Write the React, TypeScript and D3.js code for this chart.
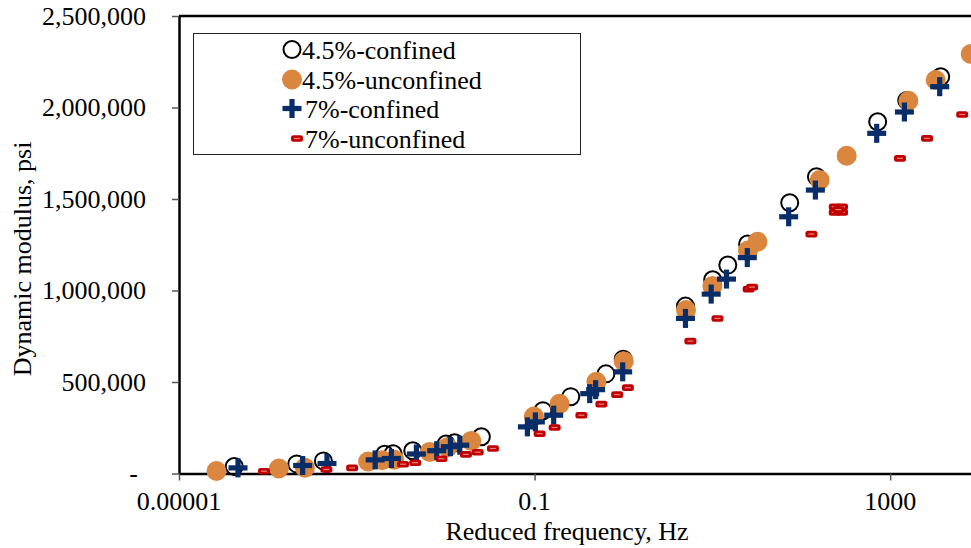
import React, { useEffect, useRef } from 'react';
import * as d3 from 'd3';

// legend / series names
const seriesNames = ['4.5%-confined', '4.5%-unconfined', '7%-confined', '7%-unconfined'];

// [reduced frequency (Hz), dynamic modulus (psi)]
const confined45: [number, number][] = [
  [4.18e-5, 38300], [2.11e-4, 52500], [4.21e-4, 68900], [2.06e-3, 105500], [2.56e-3, 108300],
  [4.26e-3, 124700], [1.01e-2, 161300], [1.26e-2, 168400], [2.52e-2, 201200], [0.124, 343300],
  [0.255, 419900], [0.635, 544500], [0.993, 624900], [4.98, 914700], [10.07, 1058500],
  [14.9, 1138900], [24.9, 1253700], [74.1, 1479500], [148, 1621600], [723, 1922400],
  [1535, 2038300], [3700, 2168400],
];

const unconfined45: [number, number][] = [
  [2.64e-5, 13700], [1.33e-4, 27300], [2.61e-4, 31700], [1.34e-3, 65600], [1.93e-3, 72700],
  [2.64e-3, 75400], [6.61e-3, 118100], [1.05e-2, 143800], [1.94e-2, 178200], [0.0982, 311600],
  [0.191, 380500], [0.495, 500800], [1.005, 614000], [5.05, 892800], [10.0, 1025100],
  [25.1, 1218100], [32.1, 1266200], [161, 1603500], [324, 1736400], [1603, 2037100],
  [3250, 2150300], [8050, 2292400],
];

const confined7: [number, number][] = [
  [4.61e-5, 30600], [2.46e-4, 43700], [4.62e-4, 54700], [1.61e-3, 74400], [2.45e-3, 82000],
  [4.68e-3, 106600], [7.93e-3, 124700], [1.13e-2, 146500], [1.44e-2, 154700], [0.083, 254800],
  [0.102, 282100], [0.164, 318700], [0.417, 436300], [0.486, 458200], [0.979, 555500],
  [4.98, 847400], [9.69, 980300], [14.4, 1062300], [24.7, 1179800], [72.1, 1402900],
  [144, 1548900], [705, 1858900], [1445, 1975400], [3605, 2113700],
];

const unconfined7: [number, number][] = [
  [9.04e-5, 12600], [4.55e-4, 21900], [8.87e-4, 30600], [3.31e-3, 50800], [4.54e-3, 59000],
  [8.95e-3, 80900], [1.69e-2, 104400], [2.29e-2, 116500], [3.4e-2, 136700], [0.114, 217600],
  [0.168, 251500], [0.336, 318700], [0.564, 378900], [0.849, 430800], [1.12, 469100],
  [5.66, 723300], [11.4, 847400], [25.6, 1007600], [28.0, 1018500], [130, 1308300],
  [238, 1457000], [287, 1457000], [238, 1426900], [287, 1426900], [261, 1442000],
  [1288, 1722200], [2594, 1831500], [6457, 1961600],
];

const xTicks = [0.00001, 0.1, 1000];
const xTickLabels = ['0.00001', '0.1', '1000'];
const yTicks = [0, 500000, 1000000, 1500000, 2000000, 2500000];

const W = 971;
const H = 548;
const FONT = '"Liberation Serif", "Times New Roman", serif';
const ORANGE = '#DA863E';
const NAVY = '#082D68';
const RED = '#C00000';

type Sel = d3.Selection<SVGGElement, unknown, null, undefined>;

const drawMarker = (g: Sel, kind: number, cx: number, cy: number) => {
  if (kind === 0) {
    g.append('circle').attr('cx', cx).attr('cy', cy).attr('r', 8.5)
      .attr('fill', 'none').attr('stroke', '#000').attr('stroke-width', 2);
  } else if (kind === 1) {
    g.append('circle').attr('cx', cx).attr('cy', cy).attr('r', 10).attr('fill', ORANGE);
  } else if (kind === 2) {
    g.append('rect').attr('x', cx - 9.5).attr('y', cy - 2.6).attr('width', 19).attr('height', 5.2).attr('fill', NAVY);
    g.append('rect').attr('x', cx - 2.6).attr('y', cy - 9.5).attr('width', 5.2).attr('height', 19).attr('fill', NAVY);
  } else {
    g.append('rect').attr('x', cx - 6).attr('y', cy - 3.3).attr('width', 12).attr('height', 6.6)
      .attr('rx', 2.5).attr('fill', RED);
    g.append('rect').attr('x', cx - 3).attr('y', cy - 0.6).attr('width', 6).attr('height', 1.2)
      .attr('fill', '#E88080');
  }
};

const App: React.FC = () => {
  const chartRef = useRef<SVGSVGElement | null>(null);

  useEffect(() => {
    const root = d3.select(chartRef.current);
    root.selectAll('*').remove();
    const svg = root.append('g') as unknown as Sel;

    const x = d3.scaleLog().domain([1e-5, 1e5]).range([179, 179 + 10 * 88.9]);
    const y = d3.scaleLinear().domain([0, 2500000]).range([473.5, 16]);

    // top frame line
    svg.append('line')
      .attr('x1', x(1e-5)).attr('x2', W + 10)
      .attr('y1', y(2500000)).attr('y2', y(2500000))
      .attr('stroke', '#000').attr('stroke-width', 2.5);

    // y axis
    const yAxis = svg.append('g').attr('transform', `translate(${x(1e-5)},0)`)
      .call(d3.axisLeft(y).tickValues(yTicks).tickSize(7).tickSizeOuter(0).tickFormat(() => ''));
    yAxis.select('.domain').attr('stroke', '#000').attr('stroke-width', 2.5);
    yAxis.selectAll('.tick line').attr('stroke', '#555').attr('stroke-width', 1.5);

    const fmt = d3.format(',');
    svg.selectAll('text.ylab')
      .data(yTicks)
      .enter()
      .append('text')
      .attr('class', 'ylab')
      .attr('x', (d) => (d === 0 ? 138 : 146))
      .attr('y', (d) => y(d))
      .attr('dy', '0.34em')
      .attr('text-anchor', 'end')
      .style('font-family', FONT)
      .style('font-size', '26px')
      .attr('fill', '#000')
      .text((d) => (d === 0 ? '-' : fmt(d)));

    // x axis
    const xAxis = svg.append('g').attr('transform', `translate(0,${y(0)})`)
      .call(d3.axisBottom(x).tickValues(xTicks).tickSize(7).tickSizeOuter(0).tickFormat(() => ''));
    xAxis.select('.domain').attr('stroke', '#000').attr('stroke-width', 2.5);
    xAxis.selectAll('.tick line').attr('stroke', '#555').attr('stroke-width', 1.5);

    svg.selectAll('text.xlab')
      .data(xTicks)
      .enter()
      .append('text')
      .attr('class', 'xlab')
      .attr('x', (d) => x(d))
      .attr('y', y(0) + 36)
      .attr('text-anchor', 'middle')
      .style('font-family', FONT)
      .style('font-size', '26px')
      .attr('fill', '#000')
      .text((_, i) => xTickLabels[i]);

    // axis titles
    svg.append('text')
      .attr('x', 567)
      .attr('y', 540)
      .attr('text-anchor', 'middle')
      .style('font-family', FONT)
      .style('font-size', '26px')
      .text('Reduced frequency, Hz');

    svg.append('text')
      .attr('transform', 'translate(31,259) rotate(-90)')
      .attr('text-anchor', 'middle')
      .style('font-family', FONT)
      .style('font-size', '26px')
      .text('Dynamic modulus, psi');

    // points
    const allSeries = [confined45, unconfined45, confined7, unconfined7];
    const pts = svg.append('g');
    allSeries.forEach((data, k) => {
      data.forEach(([f, e]) => drawMarker(pts, k, x(f), y(e)));
    });

    // legend
    const lg = svg.append('g');
    lg.append('rect')
      .attr('x', 193.5).attr('y', 33.5).attr('width', 387).attr('height', 121)
      .attr('fill', '#fff').attr('stroke', '#222').attr('stroke-width', 1);
    const rowY = [49.5, 79.5, 108.5, 138.5];
    seriesNames.forEach((name, i) => {
      drawMarker(lg, i, i === 3 ? 297 : 292, rowY[i]);
      lg.append('text')
        .attr('x', i < 2 ? 302 : 305)
        .attr('y', rowY[i])
        .attr('dy', '0.35em')
        .style('font-family', FONT)
        .style('font-size', '26px')
        .attr('fill', '#000')
        .text(name);
    });
  }, []);

  return (
    <svg
      ref={chartRef}
      width={W}
      height={H}
      style={{ position: 'absolute', left: 0, top: 0, background: '#fff' }}
    ></svg>
  );
};

export default App;
